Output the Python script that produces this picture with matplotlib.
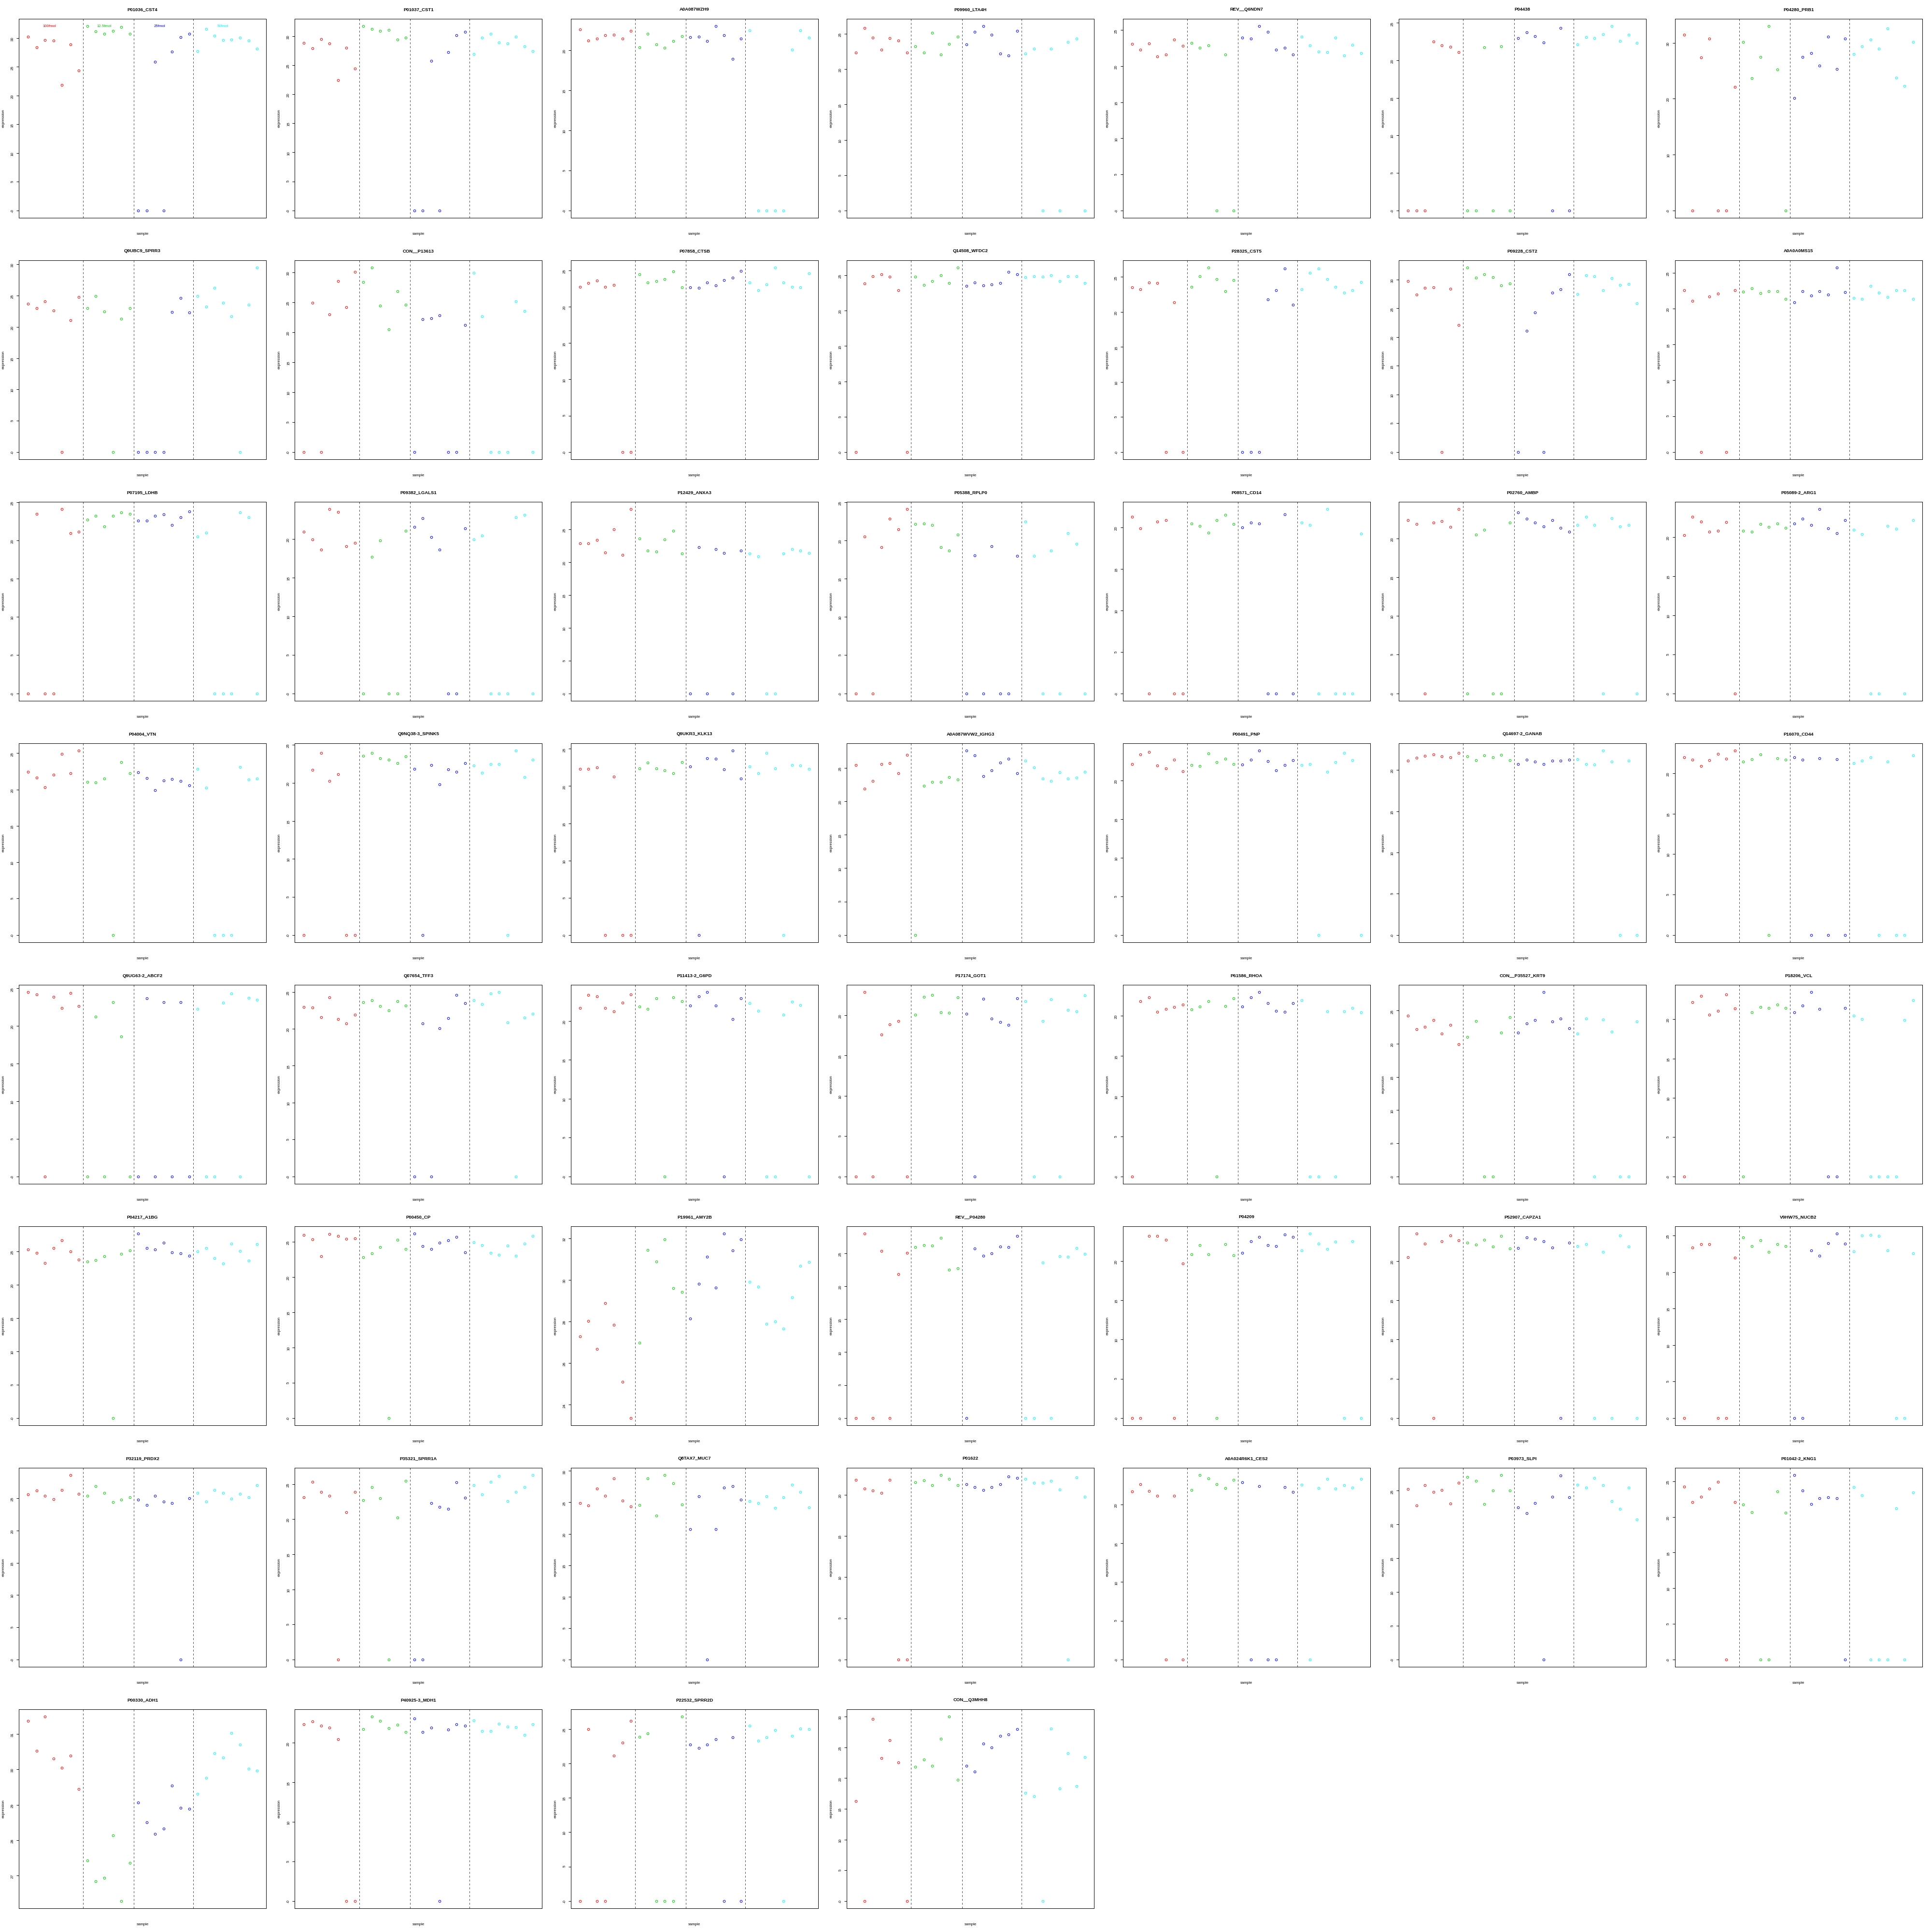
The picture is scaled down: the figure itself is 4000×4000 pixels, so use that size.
import numpy as np
import matplotlib
matplotlib.use('Agg')
import matplotlib.pyplot as plt

plt.rcParams['font.family'] = ['Liberation Sans', 'DejaVu Sans']

# ---------------- data ----------------
groups = ['100fmol', '12.5fmol', '25fmol', '50fmol']
group_sizes = [7, 6, 7, 8]
group_colors = ['#FF0000', '#00CD00', '#0000FF', '#00FFFF']

titles = [
    'P01036_CST4', 'P01037_CST1', 'A0A087WZH9', 'P09960_LTA4H', 'REV__Q6NDN7', 'P04438', 'P04280_PRB1',
    'Q9UBC9_SPRR3', 'CON__P13613', 'P07858_CTSB', 'Q14508_WFDC2', 'P28325_CST5', 'P09228_CST2', 'A0A0A0MS15',
    'P07195_LDHB', 'P09382_LGALS1', 'P12429_ANXA3', 'P05388_RPLP0', 'P08571_CD14', 'P02760_AMBP', 'P05089-2_ARG1',
    'P04004_VTN', 'Q9NQ38-3_SPINK5', 'Q9UKR3_KLK13', 'A0A087WVW2_IGHG3', 'P00491_PNP', 'Q14697-2_GANAB', 'P16070_CD44',
    'Q9UG63-2_ABCF2', 'Q07654_TFF3', 'P11413-2_G6PD', 'P17174_GOT1', 'P61586_RHOA', 'CON__P35527_KRT9', 'P18206_VCL',
    'P04217_A1BG', 'P00450_CP', 'P19961_AMY2B', 'REV__P04280', 'P04209', 'P52907_CAPZA1', 'V9HW75_NUCB2',
    'P32119_PRDX2', 'P35321_SPRR1A', 'Q8TAX7_MUC7', 'P01622', 'A0A024R6K1_CES2', 'P03973_SLPI', 'P01042-2_KNG1',
    'P00330_ADH1', 'P40925-3_MDH1', 'P22532_SPRR2D', 'CON__Q3MHH8',
]

p01 = [30.28, 28.38, 29.64, 29.61, 21.83, 28.88, 24.32, 32.07, 31.15, 30.73, 31.21, 31.93, 30.73,
       0, 0, 25.83, 0, 27.65, 30.2, 30.73, 27.74, 31.6, 30.37, 29.64, 29.75, 30.06, 29.53, 28.16]
p02 = [28.79, 27.94, 29.48, 28.74, 22.45, 28.0, 24.4, 31.7, 31.2, 30.9, 31.06, 29.42, 29.69,
       0, 0, 25.73, 0, 27.2, 30.16, 30.74, 26.89, 29.74, 30.37, 28.9, 28.74, 29.9, 28.2, 27.36]
p03 = [22.57, 21.19, 21.46, 21.88, 21.92, 21.46, 22.38, 20.38, 22.07, 20.73, 20.31, 21.15, 21.73,
       21.61, 21.69, 21.15, 22.99, 21.84, 18.89, 21.46, 22.46, 0, 0, 0, 0, 20.04, 22.46, 21.57]
p04 = [22.35, 25.83, 24.48, 22.78, 24.43, 24.09, 22.35, 23.22, 22.35, 25.17, 22.09, 23.61, 24.57,
       23.48, 25.3, 26.09, 24.91, 22.22, 21.96, 25.39, 22.22, 22.91, 0, 22.87, 0, 23.83, 24.3, 0]
p05 = [23.08, 22.27, 23.17, 21.38, 21.59, 23.72, 22.82, 23.25, 22.53, 22.87, 0, 21.63, 0,
       23.98, 23.85, 25.55, 24.74, 22.27, 22.57, 21.59, 24.1, 22.91, 22.01, 21.93, 23.98, 21.46, 22.95, 21.8]
p06 = [0, 0, 0, 22.5, 21.97, 21.8, 21.11, 0, 0, 21.72, 0, 21.89, 0,
       22.95, 23.73, 23.2, 22.38, 0, 24.3, 0, 22.09, 23.07, 22.95, 23.48, 24.55, 22.58, 23.44, 22.3]
p07 = [31.43, 0, 27.41, 30.71, 0, 0, 22.12, 30.16, 23.67, 27.46, 32.97, 25.21, 0,
       20.09, 27.46, 28.12, 25.92, 31.1, 25.32, 30.77, 28.01, 29.39, 30.6, 28.95, 32.58, 23.78, 22.29, 30.16]
p08 = [23.66, 23.02, 24.1, 22.63, 0, 21.05, 24.79, 22.97, 24.89, 22.48, 0, 21.3, 22.97,
       0, 0, 0, 0, 22.38, 24.64, 22.28, 24.94, 23.22, 26.27, 23.81, 21.69, 0, 23.51, 29.46]
p09 = [0, 24.91, 0, 22.96, 28.56, 24.19, 30.05, 28.35, 30.77, 24.4, 20.44, 26.86, 24.6,
       0, 22.19, 22.34, 22.8, 0, 0, 21.21, 29.89, 22.65, 0, 0, 0, 25.17, 23.57, 0]
p10 = [22.76, 23.27, 23.6, 22.72, 23.01, 0, 0, 24.45, 23.35, 23.52, 23.77, 24.87, 22.67,
       22.67, 22.63, 23.31, 22.93, 23.65, 24.03, 24.96, 23.35, 22.25, 23.1, 25.38, 23.35, 22.72, 22.67, 24.58]
p11 = [0, 23.82, 24.91, 25.13, 24.83, 22.91, 0, 24.83, 23.65, 24.17, 25.04, 23.91, 26.09,
       23.48, 24.0, 23.56, 23.74, 23.91, 25.52, 25.17, 24.74, 24.87, 24.78, 25.0, 24.17, 24.87, 24.87, 23.95]
p12 = [23.51, 23.2, 24.17, 24.12, 0, 21.4, 0, 23.59, 25.09, 26.32, 24.69, 22.98, 24.56,
       0, 0, 0, 21.75, 23.11, 26.23, 21.05, 23.2, 25.57, 26.23, 24.65, 23.59, 22.72, 23.11, 24.3]
p13 = [29.78, 27.42, 28.55, 28.66, 0, 28.39, 22.12, 32.08, 30.32, 30.9, 30.42, 28.98, 29.35,
       0, 21.1, 24.26, 0, 27.69, 28.28, 30.9, 27.48, 30.74, 30.58, 28.17, 30.21, 29.08, 29.24, 25.87]
p14 = [22.55, 21.09, 0, 21.69, 22.12, 0, 22.59, 22.38, 22.85, 22.16, 22.47, 22.47, 21.39,
       20.88, 22.42, 21.86, 22.42, 21.99, 25.73, 22.29, 21.52, 21.35, 23.2, 22.25, 21.61, 22.55, 22.55, 21.39]
p15 = [0, 23.43, 0, 0, 24.07, 20.94, 21.1, 22.71, 23.23, 21.82, 23.23, 23.63, 23.47,
       22.55, 22.59, 23.23, 23.39, 21.99, 23.03, 23.79, 20.5, 21.02, 0, 0, 0, 23.63, 23.03, 0]
p16 = [20.92, 19.92, 18.61, 23.86, 23.51, 19.08, 19.48, 0, 17.69, 19.84, 0, 0, 21.04,
       21.59, 22.67, 20.24, 18.61, 0, 0, 21.35, 19.92, 20.44, 0, 0, 0, 22.83, 23.15, 0]
p17 = [22.85, 22.85, 23.36, 21.44, 24.95, 21.11, 28.04, 23.55, 21.72, 21.58, 23.45, 24.77, 21.3,
       0, 22.24, 0, 21.96, 21.39, 0, 21.77, 21.3, 20.88, 0, 0, 21.3, 21.96, 21.77, 21.35]
p18 = [0, 20.5, 0, 19.13, 22.83, 21.46, 24.07, 22.11, 22.19, 22.03, 19.09, 18.69, 20.74,
       0, 18.01, 0, 19.25, 0, 0, 17.97, 22.43, 17.97, 0, 18.69, 0, 20.94, 19.57, 0]
p19 = [21.26, 19.89, 0, 20.67, 20.85, 0, 0, 20.44, 20.19, 19.37, 20.89, 21.48, 20.41,
       20.0, 20.59, 20.44, 0, 0, 21.56, 0, 20.56, 20.26, 0, 22.19, 0, 0, 0, 19.22]
p20 = [22.38, 21.83, 0, 22.02, 22.22, 21.51, 23.77, 0, 20.48, 21.11, 0, 0, 22.06,
       23.33, 22.54, 22.06, 21.55, 22.34, 21.35, 20.87, 21.71, 22.78, 21.75, 0, 22.62, 21.55, 21.71, 0]
p21 = [20.24, 22.55, 21.96, 20.63, 20.75, 21.89, 0, 20.79, 20.67, 21.65, 21.3, 21.69, 21.14,
       21.69, 22.32, 21.49, 23.54, 21.06, 20.47, 22.12, 20.9, 20.35, 0, 0, 21.37, 21.02, 0, 22.16]
p22 = [22.42, 21.66, 20.3, 22.04, 24.87, 22.25, 25.34, 21.07, 20.98, 21.49, 0, 23.77, 22.25,
       22.34, 21.57, 19.92, 21.24, 21.45, 21.15, 20.6, 22.8, 20.22, 0, 0, 0, 23.1, 21.36, 21.49]
p23 = [0, 21.68, 23.95, 20.23, 21.16, 0, 0, 23.54, 23.95, 23.22, 23.06, 22.61, 23.5,
       21.84, 0, 22.37, 19.82, 21.76, 21.48, 22.61, 22.25, 21.32, 22.49, 22.45, 0, 24.23, 20.75, 23.06]
p24 = [22.27, 22.27, 22.52, 0, 21.28, 0, 0, 22.36, 23.14, 22.36, 22.11, 21.74, 23.22,
       22.6, 0, 23.76, 23.64, 22.23, 24.75, 20.99, 22.64, 21.74, 24.42, 22.36, 0, 22.85, 22.73, 22.27]
p25 = [25.41, 21.92, 23.02, 25.6, 25.74, 24.17, 26.93, 0, 22.33, 22.93, 22.93, 23.62, 23.25,
       27.58, 26.89, 23.76, 24.63, 25.78, 26.34, 24.17, 26.1, 25.09, 23.39, 23.02, 24.36, 23.43, 23.57, 24.45]
p26 = [22.11, 23.35, 23.71, 21.91, 21.55, 22.71, 21.2, 21.99, 21.87, 23.51, 22.35, 22.79, 22.11,
       22.07, 22.67, 23.86, 22.47, 21.31, 22.03, 22.63, 22.03, 22.11, 0, 21.12, 22.35, 23.59, 22.63, 0]
p27 = [21.16, 21.46, 21.75, 21.87, 21.64, 21.53, 22.05, 21.64, 21.19, 21.79, 21.57, 21.83, 21.19,
       20.71, 21.23, 21.01, 20.71, 21.12, 21.12, 21.27, 21.31, 20.75, 20.67, 22.35, 21.04, 0, 21.12, 0]
p28 = [21.94, 21.67, 20.87, 21.63, 22.4, 21.79, 22.78, 21.41, 21.75, 22.32, 0, 21.86, 21.67,
       21.94, 21.67, 0, 21.86, 0, 21.75, 0, 21.25, 21.56, 21.94, 0, 21.44, 0, 0, 22.17]
p29 = [24.5, 24.22, 0, 23.85, 22.38, 24.39, 22.67, 0, 21.24, 0, 23.16, 18.62, 0,
       0, 23.69, 0, 23.16, 0, 23.16, 0, 22.3, 0, 0, 23.08, 24.35, 0, 23.77, 23.49]
p30 = [22.92, 22.88, 21.58, 24.25, 21.33, 20.75, 21.88, 23.58, 23.88, 23.08, 22.46, 23.75, 23.13,
       0, 20.71, 0, 20.04, 21.42, 24.58, 23.46, 23.88, 23.33, 24.79, 24.96, 20.83, 0, 21.54, 22.04]
p31 = [21.62, 23.32, 23.16, 21.66, 21.23, 22.33, 23.36, 21.86, 21.54, 22.89, 0, 23.0, 22.53,
       21.98, 23.12, 23.68, 21.98, 0, 20.2, 22.92, 22.29, 21.26, 0, 0, 20.79, 22.45, 22.02, 0]
p32 = [0, 22.86, 0, 17.63, 18.85, 19.31, 0, 20.04, 22.25, 22.52, 20.38, 20.31, 22.21,
       20.19, 0, 22.02, 19.58, 19.16, 18.82, 22.1, 21.76, 0, 19.27, 21.98, 0, 20.65, 20.46, 22.44]
p33 = [0, 21.84, 22.3, 20.5, 20.84, 21.11, 21.42, 20.8, 21.15, 21.84, 0, 21.23, 22.18,
       21.15, 22.3, 22.95, 21.61, 20.61, 20.5, 21.57, 21.92, 0, 0, 20.57, 0, 20.57, 20.96, 20.42]
p34 = [24.21, 22.17, 22.54, 23.56, 21.52, 22.82, 19.94, 21.01, 23.42, 0, 0, 21.71, 24.03,
       21.71, 23.1, 23.56, 27.78, 23.33, 23.79, 22.31, 21.57, 23.79, 0, 23.65, 21.85, 0, 0, 23.38]
p35 = [0, 22.15, 22.97, 20.59, 21.06, 23.13, 21.37, 0, 20.86, 21.53, 21.45, 21.88, 21.45,
       20.9, 21.76, 23.44, 21.33, 0, 0, 21.45, 20.47, 20.04, 0, 0, 0, 0, 19.92, 22.39]
p36 = [25.32, 24.82, 23.24, 25.55, 26.71, 25.05, 23.75, 23.52, 23.71, 24.26, 0, 24.68, 25.18,
       27.68, 25.55, 25.28, 26.29, 24.86, 24.72, 24.35, 25.05, 25.55, 23.98, 23.2, 26.16, 25.09, 23.61, 26.11]
p37 = [25.96, 25.31, 22.95, 26.05, 25.83, 25.39, 25.48, 22.82, 23.34, 24.21, 0, 25.26, 23.95,
       26.13, 24.39, 23.95, 24.87, 25.22, 25.7, 23.47, 24.91, 24.52, 23.39, 23.12, 24.43, 22.99, 24.69, 25.79]
p38 = [27.28, 28.03, 26.67, 28.88, 27.83, 25.09, 23.36, 26.97, 31.44, 30.89, 31.95, 29.59, 29.41,
       28.14, 29.81, 31.1, 29.62, 32.22, 31.41, 31.95, 29.91, 29.66, 27.89, 27.99, 27.64, 29.16, 30.67, 30.86]
p39 = [0, 27.99, 0, 25.37, 0, 21.87, 25.09, 25.98, 26.26, 26.17, 27.34, 22.52, 22.76,
       0, 25.7, 24.67, 25.0, 26.03, 25.93, 27.62, 0, 0, 23.64, 0, 24.58, 24.49, 25.79, 24.91]
p40 = [0, 0, 23.22, 23.22, 22.71, 0, 19.69, 20.86, 22.0, 20.86, 0, 22.16, 20.71,
       21.06, 22.55, 23.06, 22.0, 21.92, 23.37, 23.06, 21.33, 23.49, 22.24, 21.53, 22.43, 0, 22.55, 0]
p41 = [20.51, 23.49, 22.24, 0, 22.55, 23.29, 22.67, 22.31, 22.08, 22.71, 21.84, 23.18, 21.57,
       21.65, 23.02, 22.82, 22.51, 21.73, 0, 22.31, 21.88, 22.16, 0, 21.18, 0, 23.25, 21.84, 0]
p42 = [0, 23.36, 23.78, 23.78, 0, 0, 21.96, 24.75, 23.52, 24.33, 22.77, 23.82, 23.52,
       0, 0, 22.93, 22.22, 23.95, 25.25, 23.9, 22.81, 25.0, 25.08, 24.96, 22.98, 0, 0, 22.55]
p43 = [25.62, 26.19, 25.38, 24.86, 26.24, 28.58, 25.67, 25.38, 26.86, 25.86, 24.43, 24.81, 25.14,
       24.81, 23.95, 25.38, 24.48, 24.28, 0, 25.0, 25.86, 24.48, 26.29, 25.81, 24.9, 25.67, 25.19, 27.0]
p44 = [23.11, 25.35, 23.9, 23.33, 0, 20.96, 23.9, 22.72, 24.56, 22.98, 0, 20.22, 25.44,
       0, 0, 22.32, 21.71, 21.49, 25.26, 23.07, 24.87, 23.51, 25.31, 26.18, 22.54, 23.9, 24.56, 26.27]
p45 = [24.91, 24.47, 27.21, 26.04, 28.78, 25.26, 24.38, 24.57, 28.78, 22.91, 29.32, 28.0, 24.67,
       20.75, 25.99, 0, 20.75, 27.36, 27.56, 25.4, 25.16, 24.91, 25.99, 24.13, 25.84, 27.8, 26.68, 24.18]
p46 = [21.83, 20.79, 20.52, 20.22, 21.79, 0, 0, 21.5, 21.76, 21.2, 22.39, 21.94, 21.16,
       21.31, 20.93, 20.6, 20.93, 21.31, 22.24, 22.06, 21.94, 21.46, 21.46, 21.72, 20.67, 0, 22.09, 19.74]
p47 = [21.7, 22.66, 21.77, 21.14, 0, 21.12, 0, 21.89, 23.8, 23.36, 22.62, 22.16, 23.2,
       22.85, 0, 22.39, 0, 0, 22.26, 21.66, 22.55, 0, 22.16, 23.32, 22.04, 22.53, 22.2, 23.34]
p48 = [25.24, 22.81, 25.79, 24.79, 25.07, 23.1, 26.17, 27.02, 26.48, 23.05, 25.0, 27.29, 25.05,
       22.5, 21.69, 23.17, 0, 24.07, 27.21, 24.05, 25.9, 25.43, 26.9, 25.79, 23.45, 22.33, 25.43, 20.76]
p49 = [24.28, 22.09, 22.83, 23.99, 24.91, 0, 22.11, 21.71, 20.69, 0, 0, 23.6, 20.62,
       25.86, 23.69, 21.84, 22.59, 22.79, 22.65, 0, 24.16, 23.04, 0, 0, 0, 21.21, 0, 23.44]
p50 = [31.37, 30.53, 31.49, 30.3, 30.04, 30.39, 29.44, 27.43, 26.83, 26.93, 28.13, 26.28, 27.35,
       29.06, 28.5, 28.17, 28.32, 29.54, 28.91, 28.88, 29.31, 29.76, 30.45, 30.33, 31.03, 30.7, 30.02, 29.97]
p51 = [22.33, 22.72, 22.14, 21.91, 20.47, 0, 0, 21.71, 23.31, 22.76, 21.83, 22.3, 21.4,
       23.07, 21.4, 21.91, 0, 21.67, 22.37, 22.18, 22.84, 21.48, 21.52, 22.41, 22.02, 21.98, 21.01, 22.33]
p52 = [0, 25.0, 0, 0, 21.15, 22.99, 26.16, 23.88, 24.37, 0, 0, 0, 26.79,
       22.76, 22.27, 22.76, 23.52, 0, 23.79, 0, 25.49, 23.3, 23.79, 24.82, 0, 23.97, 25.04, 25.0]
p53 = [16.22, 0, 29.6, 23.29, 26.14, 22.53, 0, 21.88, 23.03, 21.98, 26.44, 30.0, 19.68,
       21.98, 21.03, 25.59, 24.99, 26.89, 27.09, 27.99, 17.58, 17.03, 0, 28.09, 18.28, 24.04, 18.68, 23.44]

values = [p01, p02, p03, p04, p05, p06, p07, p08, p09, p10, p11, p12, p13, p14,
          p15, p16, p17, p18, p19, p20, p21, p22, p23, p24, p25, p26, p27, p28,
          p29, p30, p31, p32, p33, p34, p35, p36, p37, p38, p39, p40, p41, p42,
          p43, p44, p45, p46, p47, p48, p49, p50, p51, p52, p53]

# ---------------- layout ----------------
W, H, DPI = 4000, 4000, 100
PX = 72.0 / DPI          # points per pixel
NCOL, NROW = 7, 8
CW, RH = W / NCOL, H / NROW
ML, MR, MT, MB = 39.0, 20.4, 39.0, 49.0   # panel margins (px)


def r_pretty(lo, hi, n=5):
    """Tick positions like R's pretty()/axTicks for the given range."""
    cell = (hi - lo) / n
    base = 10 ** np.floor(np.log10(cell))
    unit = base
    h, h5 = 1.5, 0.5 + 1.5 * 1.5
    if 2 * base - cell < h * (cell - unit):
        unit = 2 * base
        if 5 * base - cell < h5 * (cell - unit):
            unit = 5 * base
            if 10 * base - cell < h * (cell - unit):
                unit = 10 * base
    ns = np.ceil(lo / unit - 1e-7)
    nu = np.floor(hi / unit + 1e-7)
    return np.arange(ns, nu + 1) * unit


fig = plt.figure(figsize=(W / DPI, H / DPI), dpi=DPI)
fig.patch.set_facecolor('white')

n = sum(group_sizes)
x = np.arange(1, n + 1)
grp = np.repeat(np.arange(len(group_sizes)), group_sizes)
ends = np.cumsum(group_sizes)
starts = ends - np.array(group_sizes) + 1
bounds = ends[:-1] + 0.5

small = 7.92 * PX
for i, (title, vals) in enumerate(zip(titles, values)):
    r, c = divmod(i, NCOL)
    left = c * CW + ML
    top = r * RH + MT
    w = CW - ML - MR
    h = RH - MT - MB
    ax = fig.add_axes([left / W, 1 - (top + h) / H, w / W, h / H])
    v = np.asarray(vals, float)
    for b in bounds:
        ax.axvline(b, color='#444444', lw=PX, ls=(0, (4, 4)))
    for g in range(len(group_sizes)):
        m = grp == g
        ax.plot(x[m], v[m], linestyle='none', marker='o', markersize=3.3,
                markerfacecolor='none', markeredgecolor=group_colors[g],
                markeredgewidth=PX)

    lo, hi = v.min(), v.max()
    pad = 0.04 * (hi - lo)
    ax.set_xlim(1 - 0.04 * (n - 1), n + 0.04 * (n - 1))
    ax.set_ylim(lo - pad, hi + pad)
    ticks = r_pretty(lo - pad, hi + pad)
    ax.set_yticks(ticks)
    ax.set_yticklabels([f'{t:g}' for t in ticks])
    ax.set_xticks([])
    ax.tick_params(axis='y', length=4.75 * PX, width=PX, pad=4.8 * PX,
                   labelsize=small, labelrotation=90, colors='black')
    for s in ax.spines.values():
        s.set_linewidth(PX)
        s.set_color('black')

    ax.text(0.5, 1 + 19.0 / h, title, transform=ax.transAxes, ha='center',
            va='center', fontsize=9.5 * PX, fontweight='bold')
    ax.text(0.5, -34.0 / h, 'sample', transform=ax.transAxes, ha='center',
            va='center', fontsize=small)
    ax.set_ylabel('expression', fontsize=small)
    ax.yaxis.set_label_coords((10.5 - ML) / w, 0.5)

    if i == 0:
        for g, lab in enumerate(groups):
            xc = (starts[g] + ends[g]) / 2 - 0.5
            ax.text(xc, hi, lab, color=group_colors[g], ha='center',
                    va='center', fontsize=small)

fig.savefig('out.png', dpi=DPI, facecolor='white')
